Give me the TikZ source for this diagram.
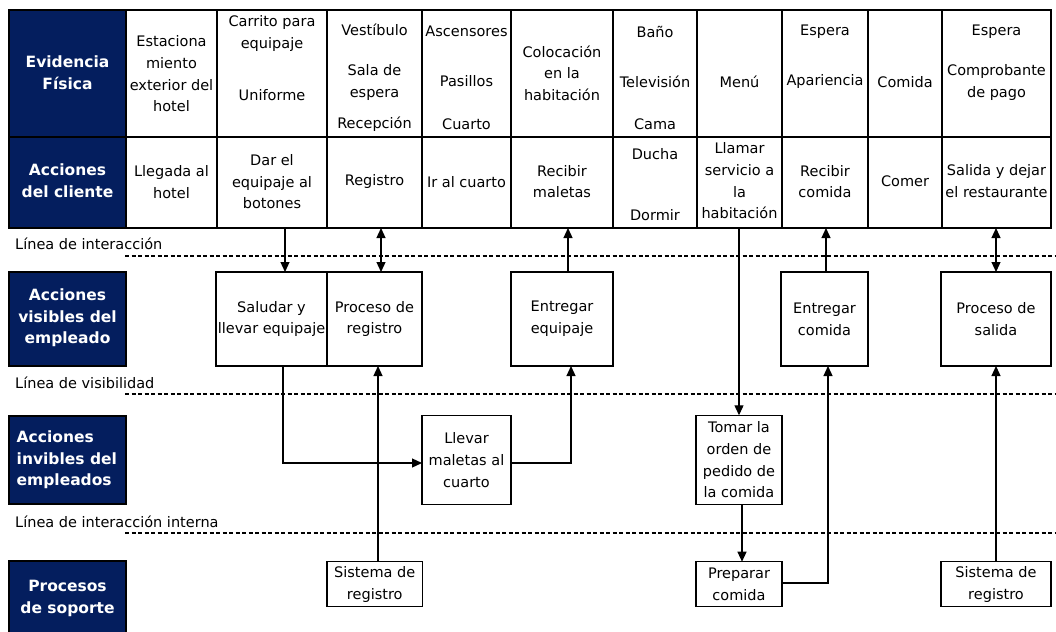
\documentclass[tikz,border=0pt]{standalone}
\usepackage{fontspec}
\setmainfont{DejaVu Sans}
\usetikzlibrary{arrows.meta}
\definecolor{navy}{RGB}{4,30,94}
\tikzset{
  txt/.style={align=center, inner sep=0pt, font=\fontsize{14.5}{21.7}\selectfont},
  hdr/.style={align=center, inner sep=0pt, text=white, font=\bfseries\fontsize{15.5}{21.7}\selectfont},
  cellbox/.style={draw=black, line width=1.2pt, inner sep=0pt, outer sep=0pt, anchor=north west},
  navybox/.style={cellbox, fill=navy},
  procbox/.style={cellbox, fill=white, align=center, font=\fontsize{14.5}{21.7}\selectfont},
  conn/.style={line width=1.2pt},
  arr/.style={conn, -{Triangle[length=10pt,width=9pt]}},
  darr/.style={conn, {Triangle[length=10pt,width=9pt]}-{Triangle[length=10pt,width=9pt]}},
  sepline/.style={line width=1.2pt, dash pattern=on 4pt off 2.5pt},
  lbl/.style={anchor=west, inner sep=0pt, font=\fontsize{14.5}{21.7}\selectfont},
}
\begin{document}
\begin{tikzpicture}[x=1pt, y=-1pt]
\useasboundingbox (0,0) rectangle (1056,631);

% ---------- top table: row 1 (Evidencia fisica) ----------
\node[navybox, minimum width=117pt, minimum height=127pt] (h1) at (9,10) {};
\node[cellbox, minimum width=91pt,  minimum height=127pt] (e1)  at (126,10) {};
\node[cellbox, minimum width=110pt, minimum height=127pt] (e2)  at (217,10) {};
\node[cellbox, minimum width=95pt,  minimum height=127pt] (e3)  at (327,10) {};
\node[cellbox, minimum width=89pt,  minimum height=127pt] (e4)  at (422,10) {};
\node[cellbox, minimum width=102pt, minimum height=127pt] (e5)  at (511,10) {};
\node[cellbox, minimum width=84pt,  minimum height=127pt] (e6)  at (613,10) {};
\node[cellbox, minimum width=85pt,  minimum height=127pt] (e7)  at (697,10) {};
\node[cellbox, minimum width=86pt,  minimum height=127pt] (e8)  at (782,10) {};
\node[cellbox, minimum width=74pt,  minimum height=127pt] (e9)  at (868,10) {};
\node[cellbox, minimum width=109pt, minimum height=127pt] (e10) at (942,10) {};

% ---------- top table: row 2 (Acciones del cliente) ----------
\node[navybox, minimum width=117pt, minimum height=91pt] (h2) at (9,137) {};
\node[cellbox, minimum width=91pt,  minimum height=91pt] (a1)  at (126,137) {};
\node[cellbox, minimum width=110pt, minimum height=91pt] (a2)  at (217,137) {};
\node[cellbox, minimum width=95pt,  minimum height=91pt] (a3)  at (327,137) {};
\node[cellbox, minimum width=89pt,  minimum height=91pt] (a4)  at (422,137) {};
\node[cellbox, minimum width=102pt, minimum height=91pt] (a5)  at (511,137) {};
\node[cellbox, minimum width=84pt,  minimum height=91pt] (a6)  at (613,137) {};
\node[cellbox, minimum width=85pt,  minimum height=91pt] (a7)  at (697,137) {};
\node[cellbox, minimum width=86pt,  minimum height=91pt] (a8)  at (782,137) {};
\node[cellbox, minimum width=74pt,  minimum height=91pt] (a9)  at (868,137) {};
\node[cellbox, minimum width=109pt, minimum height=91pt] (a10) at (942,137) {};

% ---------- texts of row 1 ----------
\node[hdr] (th1) at (67.5,72.5) {Evidencia\\Física};
\node[txt] (te1) at (171.5,74) {Estaciona\\miento\\exterior del\\hotel};
\node[txt] (te2) at (272,58.4) {Carrito para\\equipaje\\[30.6pt]Uniforme};
\node[txt] (te3) at (374.5,77.9) {Vestíbulo\\[18.3pt]Sala de\\espera\\[9pt]Recepción};
\node[txt] (te4) at (466.5,77.9) {Ascensores\\[28.3pt]Pasillos\\[20.6pt]Cuarto};
\node[txt] (te5) at (562,73.3) {Colocación\\en la\\habitación};
\node[txt] (te6) at (655,77.9) {Baño\\[28.3pt]Televisión\\[20.6pt]Cama};
\node[txt] (te7) at (739.5,81.7) {Menú};
\node[txt] (te8) at (825,56.7) {Espera\\[28.3pt]Apariencia};
\node[txt] (te9) at (905,81.7) {Comida};
\node[txt] (te10) at (996.5,62.5) {Espera\\[18.3pt]Comprobante\\de pago};

% ---------- texts of row 2 ----------
\node[hdr] (th2) at (67.5,181) {Acciones\\del cliente};
\node[txt] (ta1) at (171.5,182) {Llegada al\\hotel};
\node[txt] (ta2) at (272,181.7) {Dar el\\equipaje al\\botones};
\node[txt] (ta3) at (374.5,181.7) {Registro};
\node[txt] (ta4) at (466.5,181.7) {Ir al cuarto};
\node[txt] (ta5) at (562,181.5) {Recibir\\maletas};
\node[txt] (ta6) at (655,184.5) {Ducha\\[39.3pt]Dormir};
\node[txt] (ta7) at (739.5,180.8) {Llamar\\servicio a\\la\\habitación};
\node[txt] (ta8) at (825,181.5) {Recibir\\comida};
\node[txt] (ta9) at (905,181.7) {Comer};
\node[txt] (ta10) at (996.5,181.2) {Salida y dejar\\el restaurante};

% ---------- separation lines ----------
\coordinate (l1s) at (125,256);  \coordinate (l1e) at (1056,256);
\coordinate (l2s) at (125,394);  \coordinate (l2e) at (1056,394);
\coordinate (l3s) at (125,533);  \coordinate (l3e) at (1056,533);
\draw[sepline] (l1s) -- (l1e);
\draw[sepline] (l2s) -- (l2e);
\draw[sepline] (l3s) -- (l3e);
\node[lbl] (lab1) at (15,243.5) {Línea de interacción};
\node[lbl] (lab2) at (15,382.7) {Línea de visibilidad};
\node[lbl] (lab3) at (15,521.7) {Línea de interacción interna};

% ---------- left navy headers ----------
\node[navybox, minimum width=117pt, minimum height=94pt] (hv) at (9,272) {};
\node[hdr] (thv) at (67.5,318) {Acciones\\visibles del\\empleado};
\node[navybox, minimum width=117pt, minimum height=88pt] (hi) at (9,416) {};
\node[hdr, align=left, anchor=west] (thi) at (16.5,460) {Acciones\\invibles del\\empleados};
\node[navybox, minimum width=117pt, minimum height=80pt] (hs) at (9,561) {};
\node[hdr] (ths) at (67.5,598.8) {Procesos\\de soporte};

% ---------- process boxes ----------
\node[procbox, minimum width=111pt, minimum height=94pt] (salud)  at (216,272) {Saludar y\\llevar equipaje};
\node[procbox, minimum width=95pt,  minimum height=94pt] (proc)   at (327,272) {Proceso de\\registro};
\node[procbox, minimum width=102pt, minimum height=94pt] (entE)   at (511,272) {Entregar\\equipaje};
\node[procbox, minimum width=87pt,  minimum height=94pt] (entC)   at (781,272) {Entregar\\comida};
\node[procbox, minimum width=110pt, minimum height=94pt] (salida) at (941,272) {Proceso de\\salida};

\node[procbox, minimum width=89pt, minimum height=88.5pt] (llevar) at (422,415.7) {Llevar\\maletas al\\cuarto};
\node[procbox, minimum width=86pt, minimum height=89pt]   (tomar)  at (696,415.3) {Tomar la\\orden de\\pedido de\\la comida};

\node[procbox, minimum width=95.5pt, minimum height=45pt] (sisL) at (327,561.7) {Sistema de\\registro};
\node[procbox, minimum width=86pt,   minimum height=45pt] (prep) at (696,561.7) {Preparar\\comida};
\node[procbox, minimum width=110pt,  minimum height=45pt] (sisR) at (941,561.7) {Sistema de\\registro};

% ---------- connector positions ----------
\coordinate (x283) at (283,0);
\coordinate (x285) at (285,0);
\coordinate (x378) at (378,0);
\coordinate (x381) at (381,0);
\coordinate (x568) at (568,0);
\coordinate (x571) at (571,0);
\coordinate (x739) at (739,0);
\coordinate (x742) at (742,0);
\coordinate (x826) at (826,0);
\coordinate (x828) at (828,0);
\coordinate (x996) at (996,0);
\coordinate (y463) at (0,463);
\coordinate (y583) at (0,583);

% ---------- connectors ----------
\draw[arr]  (a2.south -| x285) -- (salud.north -| x285);
\draw[darr] (a3.south -| x381) -- (proc.north -| x381);
\draw[arr]  (entE.north -| x568) -- (a5.south -| x568);
\draw[arr]  (a7.south -| x739) -- (tomar.north -| x739);
\draw[arr]  (entC.north -| x826) -- (a8.south -| x826);
\draw[darr] (a10.south -| x996) -- (salida.north -| x996);

\draw[arr] (salud.south -| x283) |- (llevar.west |- y463);
\draw[arr] (sisL.north -| x378) -- (proc.south -| x378);
\draw[arr] (llevar.east |- y463) -| (entE.south -| x571);
\draw[arr] (tomar.south -| x742) -- (prep.north -| x742);
\draw[arr] (prep.east |- y583) -| (entC.south -| x828);
\draw[arr] (sisR.north -| x996) -- (salida.south -| x996);
\end{tikzpicture}
\end{document}
